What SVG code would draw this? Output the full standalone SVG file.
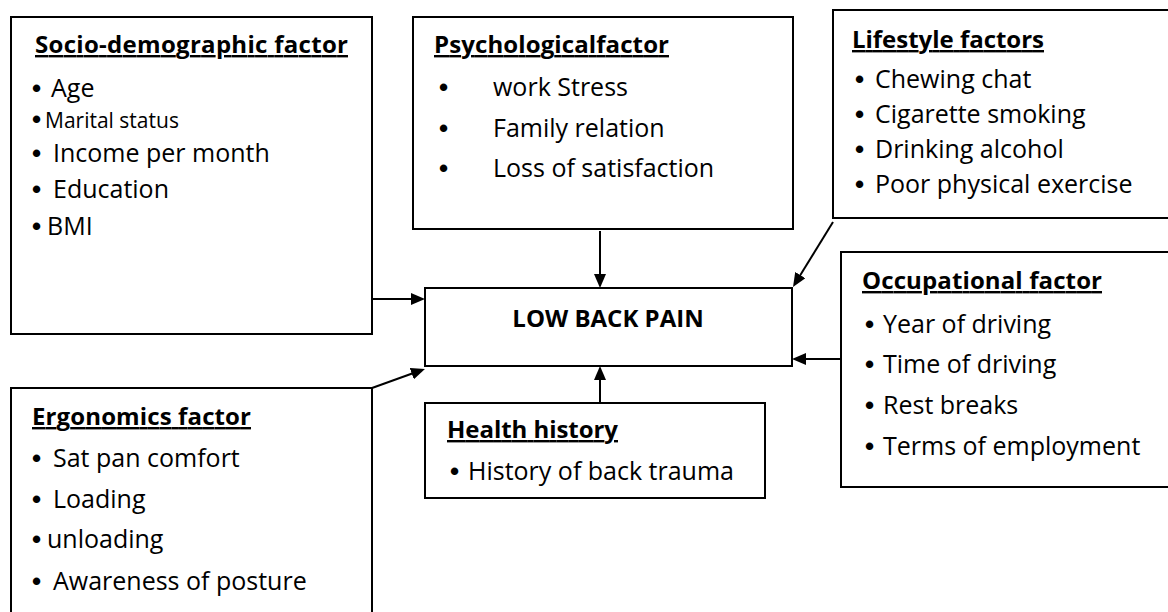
<svg xmlns="http://www.w3.org/2000/svg" width="1168" height="612" viewBox="0 0 1168 612">
<style>
.box{fill:#fff;stroke:#000;stroke-width:2}
.hd{font-family:"Open Sans","Liberation Sans",sans-serif;font-weight:700;font-size:24px;text-decoration:underline;fill:#000}
.it{font-family:"Open Sans","Liberation Sans",sans-serif;font-size:25px;fill:#000}
.sm{font-family:"Open Sans","Liberation Sans",sans-serif;font-size:21px;fill:#000}
.bu{font-family:"Liberation Sans",sans-serif;font-size:26px;font-weight:700;fill:#000}
.main{font-family:"Open Sans","Liberation Sans",sans-serif;font-weight:700;font-size:24px;fill:#000}
.cn{fill:none;stroke:#000;stroke-width:2;marker-end:url(#ah)}
</style>
<defs>
<marker id="ah" viewBox="0 0 14 12" refX="10" refY="6" markerWidth="14" markerHeight="12" orient="auto" markerUnits="userSpaceOnUse"><path d="M0,0 L14,6 L0,12 z" fill="#000"/></marker>
</defs>
<rect width="1168" height="612" fill="#fff"/>

<g id="socio">
<rect class="box" x="11" y="17" width="361" height="317"/>
<text class="hd" x="35" y="53" textLength="313">Socio-demographic factor</text>
<text class="bu" x="32" y="97">•</text><text class="it" x="51" y="97">Age</text>
<text class="bu" x="32" y="128">•</text><text class="sm" x="45" y="128">Marital status</text>
<text class="bu" x="32" y="162">•</text><text class="it" x="53" y="162">Income per month</text>
<text class="bu" x="32" y="198">•</text><text class="it" x="53" y="198">Education</text>
<text class="bu" x="32" y="235">•</text><text class="it" x="47" y="235">BMI</text>
</g>

<g id="psych">
<rect class="box" x="413" y="17" width="380" height="212"/>
<text class="hd" x="434" y="53" textLength="235">Psychologicalfactor</text>
<text class="bu" x="439" y="96">•</text><text class="it" x="493" y="96">work Stress</text>
<text class="bu" x="439" y="137">•</text><text class="it" x="493" y="137">Family relation</text>
<text class="bu" x="439" y="177">•</text><text class="it" x="493" y="177">Loss of satisfaction</text>
</g>

<g id="lifestyle">
<rect class="box" x="833" y="10" width="345" height="208"/>
<text class="hd" x="852" y="48" textLength="192">Lifestyle factors</text>
<text class="bu" x="855" y="88">•</text><text class="it" x="875" y="88">Chewing chat</text>
<text class="bu" x="855" y="123">•</text><text class="it" x="875" y="123">Cigarette smoking</text>
<text class="bu" x="855" y="158">•</text><text class="it" x="875" y="158">Drinking alcohol</text>
<text class="bu" x="855" y="193">•</text><text class="it" x="875" y="193">Poor physical exercise</text>
</g>

<g id="lbp">
<rect class="box" x="425" y="288" width="367" height="78"/>
<text class="main" x="608" y="327" text-anchor="middle">LOW BACK PAIN</text>
</g>

<g id="occupational">
<rect class="box" x="841" y="252" width="340" height="235"/>
<text class="hd" x="862" y="289" textLength="240">Occupational factor</text>
<text class="bu" x="865" y="333">•</text><text class="it" x="883" y="333">Year of driving</text>
<text class="bu" x="865" y="373">•</text><text class="it" x="883" y="373">Time of driving</text>
<text class="bu" x="865" y="414">•</text><text class="it" x="883" y="414">Rest breaks</text>
<text class="bu" x="865" y="455">•</text><text class="it" x="883" y="455">Terms of employment</text>
</g>

<g id="health">
<rect class="box" x="425" y="403" width="340" height="95"/>
<text class="hd" x="447" y="438" textLength="171">Health history</text>
<text class="bu" x="450" y="480">•</text><text class="it" x="468" y="480">History of back trauma</text>
</g>

<g id="ergonomics">
<rect class="box" x="11" y="388" width="361" height="240"/>
<text class="hd" x="32" y="425" textLength="219">Ergonomics factor</text>
<text class="bu" x="32" y="467">•</text><text class="it" x="53" y="467">Sat pan comfort</text>
<text class="bu" x="32" y="508">•</text><text class="it" x="53" y="508">Loading</text>
<text class="bu" x="32" y="548">•</text><text class="it" x="47" y="548">unloading</text>
<text class="bu" x="32" y="590">•</text><text class="it" x="53" y="590">Awareness of posture</text>
</g>

<g id="connectors">
<path class="cn" d="M372,299 L421,299"/>
<path class="cn" d="M600,231 L600,284"/>
<path class="cn" d="M833,222 L795.1,283.6"/>
<path class="cn" d="M841,359 L796,359"/>
<path class="cn" d="M372,388 L421.2,370.3"/>
<path class="cn" d="M600,403 L600,370"/>
</g>
</svg>
